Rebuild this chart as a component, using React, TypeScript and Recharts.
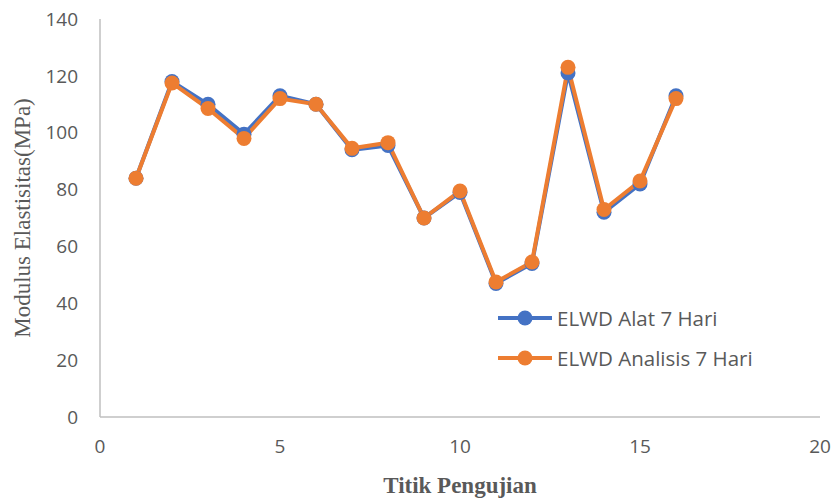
import React from "react";
import { LineChart, Line, XAxis, YAxis } from "recharts";

// Test points (Titik Pengujian)
const titik = [1, 2, 3, 4, 5, 6, 7, 8, 9, 10, 11, 12, 13, 14, 15, 16];
// Elastic modulus (MPa) measured by the LWD device, 7 days
const elwdAlat = [84, 118, 110, 99.5, 113, 110, 94, 95.5, 70, 79, 47, 54, 121, 72, 82, 113];
// Elastic modulus (MPa) from analysis, 7 days
const elwdAnalisis = [84, 117.5, 108.5, 98, 112, 110, 94.5, 96.5, 70, 79.5, 47.5, 54.5, 123, 73, 83, 112];

const xTicks = [0, 5, 10, 15, 20];
const yTicks = [0, 20, 40, 60, 80, 100, 120, 140];

const seriesNames = ["ELWD Alat 7 Hari", "ELWD Analisis 7 Hari"];
const seriesColors = ["#4472C4", "#ED7D31"];

const data = titik.map((t, i) => ({
  titik: t,
  alat: elwdAlat[i],
  analisis: elwdAnalisis[i],
}));

const TEXT = "#595959";
const AXIS = "#BFBFBF";
const SANS = "'Open Sans', 'Liberation Sans', sans-serif";
const SERIF = "'Liberation Serif', 'DejaVu Serif', serif";

// Legend box sitting inside the plot area, lower right
const LegendBox = () => (
  <svg
    width={300}
    height={80}
    style={{ position: "absolute", left: 498, top: 300, pointerEvents: "none" }}
  >
    {seriesNames.map((name, i) => {
      const cy = 18 + i * 40;
      return (
        <g key={name}>
          <line x1={0} x2={54} y1={cy} y2={cy} stroke={seriesColors[i]} strokeWidth={4} />
          <circle cx={27} cy={cy} r={7.5} fill={seriesColors[i]} />
          <text x={59} y={cy} dominantBaseline="central" fontFamily={SANS} fontSize={20.5} fill={TEXT}>
            {name}
          </text>
        </g>
      );
    })}
  </svg>
);

export default function App() {
  return (
    <div style={{ position: "absolute", left: 0, top: 0, width: 835, height: 500, background: "#fff" }}>
      <LineChart width={835} height={500} data={data} margin={{ top: 19, right: 15, left: 0, bottom: 0 }}>
        <XAxis
          dataKey="titik"
          type="number"
          domain={[0, 20]}
          ticks={xTicks}
          interval={0}
          height={83}
          tickLine={false}
          tickSize={0}
          tickMargin={23}
          axisLine={{ stroke: AXIS, strokeWidth: 1.5 }}
          tick={{ fill: TEXT, fontSize: 19, fontFamily: SANS }}
          label={(props: any) => {
            const vb = props.viewBox;
            return (
              <text
                x={vb.x + vb.width / 2}
                y={vb.y + 68}
                textAnchor="middle"
                dominantBaseline="central"
                fontFamily={SERIF}
                fontWeight="bold"
                fontSize={23}
                fill={TEXT}
              >
                Titik Pengujian
              </text>
            );
          }}
        />
        <YAxis
          type="number"
          domain={[0, 140]}
          ticks={yTicks}
          interval={0}
          width={100}
          tickLine={false}
          tickSize={0}
          tickMargin={22}
          axisLine={{ stroke: AXIS, strokeWidth: 1.5 }}
          tick={{ fill: TEXT, fontSize: 19, fontFamily: SANS }}
          label={(props: any) => {
            const vb = props.viewBox;
            const cx = 22;
            const cy = vb.y + vb.height / 2;
            return (
              <text
                x={cx}
                y={cy}
                transform={`rotate(-90, ${cx}, ${cy})`}
                textAnchor="middle"
                dominantBaseline="central"
                fontFamily={SERIF}
                fontSize={23}
                fill={TEXT}
              >
                Modulus Elastisitas(MPa)
              </text>
            );
          }}
        />
        <Line
          dataKey="alat"
          name={seriesNames[0]}
          stroke={seriesColors[0]}
          strokeWidth={4}
          dot={{ r: 7.5, fill: seriesColors[0], stroke: "none" }}
          activeDot={false}
          isAnimationActive={false}
        />
        <Line
          dataKey="analisis"
          name={seriesNames[1]}
          stroke={seriesColors[1]}
          strokeWidth={4}
          dot={{ r: 7.5, fill: seriesColors[1], stroke: "none" }}
          activeDot={false}
          isAnimationActive={false}
        />
      </LineChart>
      <LegendBox />
    </div>
  );
}
